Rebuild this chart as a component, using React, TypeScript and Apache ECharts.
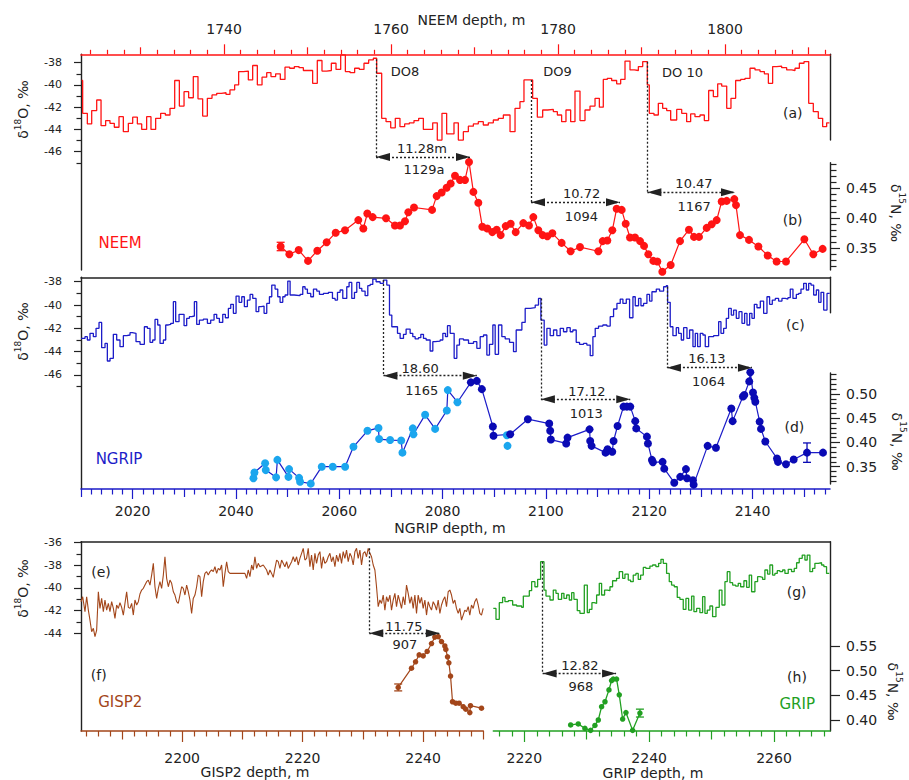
import React, { useEffect, useRef } from "react";
import * as echarts from "echarts";

const FONT = "DejaVu Sans";
const RED = "#ff1414";
const BLUE = "#1c1cc8";
const DARKBLUE = "#0a0ab4";
const LIGHTBLUE = "#1ba6ee";
const BROWN = "#a3461a";
const GREEN = "#22a022";
const INK = "#222222";

// ---------------- data ----------------
const neemD18O: number[][] = [
  [1722.95,-39.6],[1723.07,-42.55],[1723.63,-43.5],[1724.15,-42.3],[1724.75,-41.35],[1725.27,-43.66],[1725.82,-43.2],[1726.34,-43.45],[1726.86,-43.8],[1727.42,-42.85],[1727.94,-44.2],[1728.54,-43.45],[1729.06,-42.9],[1729.62,-43.5],[1730.14,-44.0],[1730.73,-42.85],[1731.25,-44.0],[1731.81,-43.0],[1732.41,-42.55],[1732.97,-42.7],[1733.53,-42.1],[1734.09,-39.6],[1734.65,-41.9],[1735.21,-40.6],[1735.76,-41.15],[1736.32,-39.25],[1736.88,-41.25],[1737.44,-42.8],[1738.0,-41.2],[1738.56,-40.9],[1739.12,-40.75],[1739.68,-40.7],[1740.24,-40.85],[1740.71,-40.45],[1741.27,-40.0],[1741.75,-38.8],[1742.31,-38.75],[1742.91,-39.55],[1743.43,-38.25],[1743.99,-40.0],[1744.55,-39.3],[1745.11,-38.9],[1745.62,-39.25],[1746.18,-39.0],[1746.74,-39.5],[1747.3,-38.4],[1747.86,-38.5],[1748.42,-38.35],[1748.98,-38.45],[1749.5,-38.7],[1750.06,-38.7],[1750.61,-39.85],[1751.17,-37.8],[1751.73,-38.75],[1752.29,-38.7],[1752.85,-38.05],[1753.41,-38.6],[1753.97,-37.3],[1754.53,-38.8],[1755.09,-38.9],[1755.64,-38.5],[1756.2,-38.6],[1756.76,-38.05],[1757.32,-37.75],[1757.88,-37.6],[1758.28,-38.95],[1758.88,-43.0],[1759.4,-43.3],[1759.96,-43.85],[1760.51,-43.0],[1761.07,-43.75],[1761.63,-43.5],[1762.19,-43.4],[1762.75,-43.2],[1763.31,-43.0],[1763.87,-44.0],[1764.47,-44.0],[1764.99,-43.4],[1765.54,-44.95],[1766.1,-42.55],[1766.66,-44.4],[1767.54,-43.4],[1768.06,-44.95],[1768.66,-44.2],[1769.26,-43.7],[1769.86,-43.5],[1770.45,-43.3],[1771.05,-43.6],[1771.65,-43.4],[1772.25,-43.15],[1772.85,-43.0],[1773.45,-42.7],[1774.25,-44.2],[1774.85,-42.1],[1775.44,-41.5],[1775.92,-39.55],[1776.96,-41.2],[1777.52,-42.9],[1778.16,-42.25],[1778.76,-42.2],[1779.44,-42.4],[1779.92,-42.7],[1780.43,-43.3],[1780.95,-42.25],[1781.51,-43.3],[1782.03,-40.55],[1782.63,-43.2],[1783.23,-42.25],[1783.83,-41.9],[1784.43,-41.2],[1784.95,-42.0],[1785.42,-39.5],[1785.9,-39.4],[1786.42,-39.6],[1787.02,-39.9],[1787.5,-39.5],[1788.02,-37.85],[1788.62,-38.65],[1789.14,-38.7],[1789.62,-38.35],[1790.14,-37.9],[1790.69,-40.0],[1790.93,-42.55],[1791.49,-42.7],[1792.01,-41.65],[1792.53,-42.1],[1793.01,-42.3],[1793.49,-43.15],[1794.21,-42.2],[1794.81,-42.55],[1795.4,-43.3],[1795.88,-42.6],[1796.4,-42.85],[1797.0,-42.7],[1797.52,-43.2],[1798.04,-40.5],[1798.6,-41.05],[1799.12,-39.9],[1799.6,-40.1],[1800.2,-42.1],[1800.71,-41.2],[1801.27,-39.6],[1801.87,-39.5],[1802.39,-39.4],[1802.99,-38.5],[1803.59,-38.65],[1804.19,-38.8],[1804.71,-39.0],[1805.19,-39.85],[1805.7,-38.35],[1806.18,-38.3],[1806.78,-38.45],[1807.38,-38.65],[1807.98,-38.7],[1808.38,-38.5],[1808.9,-38.05],[1809.46,-37.9],[1810.02,-41.65],[1810.57,-42.4],[1811.17,-43.0],[1811.69,-43.75],[1812.17,-43.4],[1812.5,-43.4]
];
const neemD15N: number[][] = [
  [1746.78,0.353],[1747.82,0.34],[1748.94,0.347],[1750.06,0.329],[1751.17,0.346],[1752.29,0.36],[1753.37,0.376],[1754.49,0.38],[1756.08,0.397],[1756.68,0.383],[1757.16,0.408],[1757.8,0.402],[1759.4,0.4],[1760.47,0.388],[1761.07,0.388],[1761.67,0.395],[1762.07,0.41],[1762.75,0.418],[1764.91,0.414],[1765.46,0.437],[1766.06,0.443],[1766.66,0.451],[1767.14,0.458],[1767.66,0.471],[1768.26,0.464],[1768.86,0.464],[1769.34,0.494],[1769.86,0.444],[1770.45,0.426],[1770.93,0.386],[1771.53,0.383],[1772.13,0.377],[1772.65,0.381],[1773.13,0.372],[1773.73,0.387],[1774.33,0.391],[1774.93,0.377],[1775.84,0.392],[1776.52,0.388],[1777.04,0.402],[1777.64,0.38],[1778.16,0.372],[1778.72,0.37],[1779.32,0.375],[1780.43,0.359],[1781.51,0.345],[1782.63,0.352],[1784.83,0.345],[1785.35,0.362],[1785.9,0.363],[1786.5,0.38],[1787.02,0.416],[1787.62,0.414],[1788.1,0.391],[1788.62,0.368],[1789.22,0.368],[1789.82,0.362],[1790.3,0.354],[1790.81,0.34],[1791.41,0.329],[1791.89,0.328],[1792.49,0.311],[1793.49,0.322],[1794.61,0.362],[1795.68,0.381],[1796.28,0.369],[1796.88,0.369],[1797.8,0.384],[1798.4,0.39],[1799.0,0.397],[1799.6,0.428],[1800.2,0.429],[1801.11,0.432],[1801.31,0.422],[1801.79,0.372],[1802.87,0.364],[1803.99,0.353],[1805.11,0.338],[1806.18,0.328],[1807.3,0.328],[1809.5,0.365],[1810.57,0.34],[1811.69,0.349]
];
const neemErr: number[][] = [[1746.78, 0.346, 0.36]];

const ngripD18O: number[][] = [
  [2010.0,-42.86],[2010.77,-42.71],[2011.23,-43.0],[2011.74,-42.43],[2012.39,-42.71],[2012.91,-42.0],[2013.49,-41.49],[2014.0,-43.66],[2014.65,-43.29],[2015.1,-44.8],[2015.62,-44.57],[2016.26,-42.51],[2016.91,-43.0],[2017.55,-43.57],[2018.2,-42.63],[2018.84,-42.57],[2019.49,-42.37],[2019.94,-42.43],[2020.65,-43.14],[2021.43,-43.37],[2022.27,-41.86],[2022.85,-42.0],[2023.36,-43.2],[2023.88,-43.0],[2024.33,-41.23],[2024.85,-41.71],[2025.3,-43.29],[2025.95,-43.0],[2026.4,-41.71],[2026.91,-41.66],[2027.37,-41.57],[2027.88,-39.71],[2028.33,-41.43],[2028.98,-40.8],[2029.95,-41.77],[2030.46,-41.14],[2030.98,-41.0],[2031.43,-40.94],[2031.95,-39.71],[2032.4,-41.66],[2032.92,-41.29],[2033.69,-41.2],[2034.47,-41.57],[2035.11,-41.29],[2035.76,-40.8],[2036.27,-41.14],[2036.79,-41.49],[2037.44,-40.8],[2037.95,-41.09],[2038.53,-40.29],[2038.99,-39.94],[2039.5,-40.71],[2040.02,-39.23],[2040.6,-39.77],[2041.12,-39.29],[2041.63,-40.14],[2042.21,-39.57],[2042.73,-39.09],[2043.25,-39.43],[2043.89,-40.57],[2044.41,-40.14],[2044.86,-40.09],[2045.44,-40.71],[2045.96,-39.86],[2046.48,-39.29],[2046.93,-38.29],[2047.57,-38.63],[2048.09,-39.29],[2048.54,-39.77],[2049.06,-39.29],[2049.51,-39.14],[2050.03,-37.94],[2050.48,-39.14],[2051.25,-39.2],[2052.41,-39.09],[2052.93,-38.43],[2053.38,-38.63],[2053.83,-39.0],[2054.48,-39.29],[2055.0,-38.63],[2055.64,-38.8],[2056.16,-39.09],[2056.93,-39.0],[2057.9,-38.91],[2058.68,-39.43],[2059.19,-39.57],[2059.65,-38.91],[2060.16,-38.71],[2060.68,-39.43],[2061.45,-38.43],[2061.9,-38.06],[2062.42,-39.43],[2062.94,-38.91],[2063.39,-38.06],[2063.91,-38.57],[2064.36,-38.8],[2065.0,-39.2],[2065.52,-38.34],[2065.97,-38.23],[2066.49,-37.77],[2067.13,-38.0],[2067.91,-38.14],[2068.55,-37.86],[2069.2,-38.29],[2069.72,-40.86],[2070.17,-41.86],[2071.27,-42.43],[2071.78,-42.86],[2072.43,-42.51],[2072.94,-42.06],[2073.72,-42.43],[2074.23,-42.71],[2074.69,-42.91],[2075.33,-42.8],[2075.79,-42.51],[2076.3,-42.86],[2076.82,-43.0],[2077.59,-43.94],[2078.11,-43.14],[2078.56,-43.09],[2079.53,-43.0],[2080.05,-42.43],[2080.56,-42.71],[2080.95,-41.77],[2081.47,-42.43],[2082.24,-44.57],[2082.76,-43.43],[2083.27,-42.91],[2084.05,-43.0],[2085.02,-43.29],[2085.98,-43.14],[2086.63,-43.71],[2087.28,-42.71],[2087.92,-42.57],[2088.57,-44.29],[2089.08,-43.37],[2089.73,-41.71],[2090.18,-44.23],[2090.83,-41.71],[2091.47,-42.71],[2092.12,-42.91],[2092.96,-43.2],[2093.73,-44.0],[2094.25,-42.14],[2095.35,-41.49],[2095.99,-40.29],[2096.96,-40.23],[2097.93,-40.0],[2098.57,-39.43],[2099.03,-41.29],[2099.67,-43.43],[2100.19,-42.0],[2100.83,-42.63],[2101.48,-42.14],[2102.12,-42.63],[2102.77,-42.0],[2103.41,-42.29],[2104.06,-41.94],[2104.71,-42.29],[2105.22,-42.14],[2105.87,-43.2],[2106.51,-43.37],[2107.29,-43.29],[2107.93,-43.43],[2108.58,-44.34],[2109.1,-42.71],[2109.55,-42.0],[2110.19,-41.8],[2111.03,-41.71],[2111.81,-41.8],[2112.45,-41.0],[2113.1,-40.34],[2113.75,-39.86],[2114.39,-39.49],[2114.91,-39.86],[2115.56,-39.49],[2116.2,-41.09],[2116.85,-39.29],[2117.3,-40.06],[2117.94,-39.43],[2118.4,-40.06],[2118.91,-39.86],[2119.56,-39.09],[2120.07,-39.66],[2120.53,-38.86],[2121.37,-38.63],[2122.01,-38.8],[2122.79,-38.43],[2123.3,-38.34],[2123.56,-39.77],[2124.07,-41.86],[2124.59,-42.63],[2125.24,-41.94],[2125.69,-42.43],[2126.21,-43.0],[2126.66,-41.94],[2127.31,-42.86],[2127.82,-42.14],[2128.47,-43.57],[2128.92,-42.43],[2129.37,-43.57],[2129.88,-42.43],[2130.4,-42.57],[2130.85,-43.57],[2131.5,-42.71],[2132.47,-42.63],[2133.44,-41.43],[2133.89,-42.43],[2134.41,-42.0],[2134.92,-41.14],[2135.37,-40.29],[2135.89,-40.86],[2136.34,-40.43],[2136.86,-41.14],[2137.38,-40.57],[2137.96,-41.57],[2138.47,-40.71],[2138.93,-41.71],[2139.44,-40.71],[2139.89,-41.14],[2140.35,-39.94],[2140.86,-40.23],[2141.51,-39.66],[2142.15,-40.71],[2142.8,-39.29],[2143.31,-39.94],[2143.83,-39.57],[2144.41,-39.43],[2145.05,-39.66],[2145.7,-39.43],[2146.35,-39.49],[2146.86,-39.37],[2147.31,-38.63],[2147.83,-39.43],[2148.48,-39.09],[2148.93,-39.0],[2149.38,-38.63],[2149.9,-38.14],[2150.42,-38.71],[2150.87,-38.14],[2151.32,-38.29],[2151.84,-39.14],[2152.36,-38.71],[2152.81,-39.77],[2153.26,-38.91],[2153.78,-40.43],[2154.42,-39.0],[2154.94,-39.0]
];
const ngripD15NLight: number[][] = [
  [2043.38,0.326],[2043.57,0.338],[2045.64,0.357],[2045.77,0.343],[2047.77,0.328],[2048.02,0.364],[2050.16,0.329],[2050.28,0.345],[2052.22,0.327],[2052.41,0.319],[2054.48,0.315],[2056.61,0.35],[2058.74,0.35],[2061.13,0.35],[2062.74,0.391],[2065.45,0.424],[2067.59,0.43],[2067.71,0.407],[2069.85,0.405],[2071.98,0.404],[2072.23,0.379],[2074.24,0.429],[2074.36,0.417],[2076.62,0.457],[2078.56,0.428],[2080.82,0.466],[2081.01,0.508],[2082.88,0.483]
];
const ngripD15NLightExtra: number[][] = [[2092.44,0.415],[2092.57,0.393]];
const ngripD15NDark: number[][] = [
  [2085.47,0.524],[2086.63,0.527],[2087.6,0.51],[2089.73,0.433],[2089.86,0.414],[2093.09,0.417],[2096.51,0.448],[2100.64,0.439],[2100.83,0.424],[2100.96,0.406],[2103.93,0.398],[2104.19,0.41],[2108.45,0.427],[2108.58,0.403],[2108.84,0.393],[2111.55,0.379],[2111.94,0.386],[2112.84,0.381],[2113.1,0.403],[2113.87,0.434],[2115.03,0.474],[2115.68,0.474],[2116.33,0.474],[2117.3,0.444],[2117.49,0.429],[2119.56,0.412],[2119.75,0.398],[2120.53,0.364],[2120.72,0.359],[2122.59,0.36],[2122.91,0.346],[2124.85,0.317],[2126.01,0.329],[2127.11,0.345],[2127.31,0.326],[2128.47,0.322],[2128.6,0.313],[2131.31,0.393],[2132.92,0.389],[2135.89,0.47],[2136.15,0.444],[2138.15,0.495],[2138.41,0.498],[2139.37,0.526],[2139.57,0.545],[2140.09,0.503],[2140.35,0.492],[2140.54,0.484],[2141.38,0.443],[2141.64,0.428],[2142.48,0.402],[2144.74,0.367],[2144.93,0.36],[2146.48,0.355],[2147.97,0.365],[2150.55,0.379],[2153.64,0.379]
];
const ngripErr: number[][] = [[2150.55, 0.359, 0.399]];

const gisp2D18O: number[][] = [
  [2183.2,-41.21],[2183.48,-40.77],[2183.86,-42.09],[2184.14,-40.77],[2184.42,-41.95],[2184.69,-42.83],[2184.97,-43.86],[2185.25,-43.56],[2185.52,-44.3],[2185.8,-43.71],[2186.08,-40.33],[2186.35,-41.8],[2186.63,-40.92],[2186.91,-42.09],[2187.18,-41.06],[2187.46,-41.95],[2187.74,-41.36],[2188.01,-42.09],[2188.29,-41.21],[2188.57,-41.8],[2188.84,-42.68],[2189.12,-41.5],[2189.4,-41.8],[2189.67,-41.3],[2189.95,-41.71],[2190.23,-42.39],[2190.5,-41.36],[2190.78,-40.33],[2191.06,-41.71],[2191.33,-41.8],[2191.61,-41.36],[2191.89,-42.39],[2192.16,-41.06],[2192.44,-41.5],[2192.72,-41.21],[2192.99,-40.53],[2193.27,-40.18],[2193.55,-40.03],[2193.82,-39.74],[2194.1,-39.44],[2194.38,-39.3],[2194.65,-39.74],[2194.93,-38.86],[2195.21,-37.82],[2195.48,-39.89],[2195.76,-40.92],[2196.04,-40.03],[2196.31,-39.44],[2196.59,-40.03],[2196.87,-38.86],[2197.14,-37.24],[2197.42,-39.15],[2197.7,-39.89],[2197.97,-39.3],[2198.25,-39.59],[2198.53,-40.33],[2198.8,-40.62],[2199.08,-41.21],[2199.35,-41.36],[2199.63,-40.62],[2199.91,-39.89],[2200.18,-40.03],[2200.46,-40.62],[2200.74,-39.74],[2201.01,-40.33],[2201.29,-41.06],[2201.57,-42.24],[2201.84,-40.92],[2202.12,-40.62],[2202.4,-39.89],[2202.67,-38.86],[2202.95,-39.0],[2203.23,-40.77],[2203.5,-39.44],[2203.78,-38.71],[2204.06,-38.56],[2204.33,-38.86],[2204.61,-38.56],[2204.89,-38.41],[2205.16,-38.56],[2205.44,-38.12],[2205.72,-38.71],[2205.99,-38.27],[2206.27,-38.41],[2206.55,-37.97],[2206.82,-39.89],[2207.1,-38.71],[2207.38,-37.68],[2207.65,-38.56],[2207.93,-38.71],[2208.48,-38.71],[2210.42,-38.71],[2210.7,-39.15],[2210.97,-38.41],[2211.25,-39.0],[2211.53,-37.97],[2211.8,-38.41],[2212.08,-37.24],[2212.36,-38.27],[2212.63,-37.82],[2212.91,-38.12],[2213.46,-37.97],[2214.02,-38.41],[2214.29,-38.86],[2214.57,-38.41],[2214.85,-38.71],[2215.12,-39.06],[2215.4,-38.27],[2215.68,-37.53],[2215.95,-37.68],[2216.23,-38.27],[2216.51,-37.53],[2216.78,-37.82],[2217.06,-38.12],[2217.34,-37.68],[2217.61,-38.27],[2217.89,-37.97],[2218.17,-37.68],[2218.44,-37.24],[2218.72,-37.68],[2219.0,-37.24],[2219.27,-37.97],[2219.55,-37.38],[2219.83,-36.94],[2220.1,-36.5],[2220.38,-37.53],[2220.66,-37.38],[2220.93,-36.5],[2221.21,-38.12],[2221.48,-37.09],[2221.76,-38.41],[2222.04,-36.94],[2222.31,-37.82],[2222.59,-37.09],[2222.87,-36.79],[2223.14,-38.27],[2223.42,-37.24],[2223.7,-37.82],[2223.97,-37.68],[2224.25,-37.24],[2224.53,-36.94],[2224.8,-37.68],[2225.08,-37.24],[2225.36,-38.12],[2225.63,-37.09],[2225.91,-37.68],[2226.19,-36.94],[2226.46,-37.82],[2226.74,-36.79],[2227.02,-37.38],[2227.29,-36.65],[2227.57,-37.68],[2227.85,-36.94],[2228.12,-37.24],[2228.4,-37.97],[2228.68,-36.79],[2228.95,-36.5],[2229.23,-37.38],[2229.51,-36.65],[2229.78,-37.97],[2230.06,-36.94],[2230.34,-36.79],[2230.61,-37.24],[2230.89,-36.5],[2231.17,-36.94],[2231.44,-37.24],[2231.72,-37.97],[2232.0,-38.41],[2232.27,-39.89],[2232.55,-41.65],[2232.83,-41.06],[2233.1,-41.36],[2233.38,-40.62],[2233.66,-41.95],[2233.93,-40.77],[2234.21,-41.21],[2234.49,-40.62],[2234.76,-41.95],[2235.04,-41.06],[2235.32,-40.47],[2235.59,-41.65],[2235.87,-40.62],[2236.15,-41.21],[2236.42,-41.8],[2236.7,-40.77],[2236.98,-41.5],[2237.25,-39.74],[2237.53,-40.47],[2237.81,-41.36],[2238.08,-40.77],[2238.36,-41.8],[2238.64,-40.62],[2238.91,-42.24],[2239.19,-40.62],[2239.47,-41.36],[2239.74,-40.83],[2240.02,-41.8],[2240.3,-41.06],[2240.57,-42.39],[2240.85,-41.21],[2241.13,-41.65],[2241.4,-41.95],[2241.68,-41.21],[2241.96,-41.5],[2242.23,-41.95],[2242.51,-41.06],[2242.79,-42.24],[2243.06,-41.5],[2243.34,-41.06],[2243.62,-40.77],[2243.89,-41.65],[2244.17,-40.33],[2244.45,-40.18],[2244.72,-40.62],[2245.0,-41.36],[2245.27,-41.06],[2245.55,-41.8],[2245.83,-42.24],[2246.1,-41.8],[2246.38,-42.83],[2246.66,-42.39],[2246.93,-41.95],[2247.21,-42.09],[2247.49,-41.65],[2247.76,-42.39],[2248.04,-41.5],[2248.32,-41.8],[2248.59,-41.21],[2248.87,-40.92],[2249.15,-41.5],[2249.42,-42.24],[2249.7,-42.39],[2249.98,-41.8]
];
const gisp2D15N: number[][] = [
  [2235.87,0.466],[2238.08,0.505],[2238.75,0.518],[2239.35,0.532],[2240.02,0.53],[2240.68,0.539],[2241.4,0.555],[2241.95,0.568],[2242.51,0.569],[2243.06,0.559],[2243.61,0.55],[2243.78,0.543],[2244.06,0.528],[2244.28,0.516],[2244.56,0.489],[2244.89,0.437],[2245.44,0.434],[2245.99,0.434],[2246.66,0.427],[2247.1,0.422],[2247.76,0.415],[2247.87,0.429],[2249.7,0.424]
];
const gisp2Err: number[][] = [[2235.87, 0.459, 0.473]];

const gripD18O: number[][] = [
  [2215.03,-41.8],[2215.46,-42.77],[2215.99,-41.3],[2216.52,-40.83],[2216.9,-41.21],[2217.43,-41.12],[2218.13,-41.5],[2218.77,-41.59],[2219.57,-41.71],[2219.84,-40.71],[2220.8,-40.24],[2221.17,-39.44],[2221.7,-39.89],[2222.13,-39.24],[2222.61,-37.68],[2223.15,-40.18],[2223.47,-40.71],[2224.11,-41.06],[2224.64,-40.18],[2225.07,-40.47],[2225.44,-41.0],[2225.98,-40.47],[2226.35,-40.92],[2226.78,-40.62],[2227.2,-41.06],[2227.58,-40.41],[2227.95,-41.0],[2228.48,-42.0],[2228.91,-42.24],[2229.61,-39.74],[2230.09,-42.18],[2230.41,-41.89],[2230.83,-41.3],[2231.21,-41.36],[2231.58,-40.62],[2232.01,-39.59],[2232.38,-40.62],[2232.86,-40.18],[2233.29,-40.24],[2233.72,-39.89],[2234.14,-39.36],[2234.78,-39.15],[2235.21,-38.56],[2235.75,-39.15],[2236.12,-38.77],[2236.65,-39.3],[2237.03,-39.44],[2237.45,-38.86],[2237.88,-38.71],[2238.25,-39.24],[2238.63,-38.86],[2239.06,-38.18],[2239.48,-38.27],[2240.12,-38.06],[2240.55,-37.97],[2241.08,-38.12],[2241.51,-37.82],[2241.89,-37.47],[2242.26,-37.82],[2242.79,-38.71],[2243.22,-39.44],[2243.59,-39.74],[2244.02,-39.89],[2244.5,-40.83],[2244.93,-41.0],[2245.46,-41.89],[2245.89,-40.92],[2246.32,-41.95],[2246.8,-40.71],[2247.17,-42.09],[2247.6,-41.8],[2248.13,-42.18],[2248.56,-40.77],[2248.93,-42.24],[2249.31,-41.95],[2249.73,-41.59],[2250.16,-42.53],[2250.7,-41.71],[2251.23,-40.18],[2251.66,-41.5],[2252.14,-39.44],[2252.51,-38.56],[2252.94,-39.53],[2253.37,-39.74],[2253.85,-39.83],[2254.27,-39.59],[2254.65,-39.89],[2255.18,-39.36],[2255.61,-39.94],[2256.03,-38.86],[2256.41,-40.33],[2256.94,-39.44],[2257.37,-39.0],[2257.74,-39.06],[2258.17,-39.24],[2258.54,-38.41],[2258.97,-38.77],[2259.34,-37.97],[2259.77,-38.86],[2260.14,-38.71],[2260.52,-38.47],[2260.95,-38.56],[2261.37,-38.41],[2261.75,-38.71],[2262.28,-38.35],[2262.81,-38.56],[2263.24,-38.27],[2263.62,-37.77],[2264.04,-37.38],[2264.52,-37.09],[2264.95,-37.53],[2265.32,-37.09],[2265.75,-38.56],[2266.18,-38.27],[2266.55,-37.82],[2267.08,-37.77],[2267.62,-37.97],[2267.99,-38.12],[2268.42,-38.71],[2268.85,-38.71]
];
const gripD15N: number[][] = [
  [2227.42,0.39],[2228.64,0.392],[2229.71,0.383],[2230.62,0.379],[2231.31,0.389],[2231.85,0.4],[2232.38,0.427],[2232.92,0.437],[2233.56,0.461],[2233.98,0.48],[2234.25,0.483],[2234.78,0.483],[2235.21,0.451],[2235.75,0.402],[2236.28,0.415],[2237.35,0.379],[2238.52,0.414]
];
const gripErr: number[][] = [[2238.52, 0.406, 0.422]];

// DO transitions: onset depth, δ18O at onset, δ18O level of the arrow, depth of the δ15N peak
const neemTransitions = [
  { onset: 1758.2, top: -37.7, level: -46.48, peak: 1769.46 },
  { onset: 1776.76, top: -39.56, level: -50.55, peak: 1787.42 },
  { onset: 1790.7, top: -37.91, level: -49.65, peak: 1801.19 },
];
const ngripTransitions = [
  { onset: 2068.55, top: -37.86, level: -46.06, peak: 2086.63 },
  { onset: 2099.03, top: -39.43, level: -48.09, peak: 2116.33 },
  { onset: 2123.43, top: -38.43, level: -45.37, peak: 2139.89 },
];
const gisp2Transitions = [{ onset: 2231.06, top: -36.5, level: -44.0, peak: 2242.79 }];
const gripTransitions = [{ onset: 2222.93, top: -37.68, level: -47.54, peak: 2234.7 }];

// annotation texts
const neemTexts = [
  { t: "DO8", x: 1761.68, y: -38.75, s: 13 },
  { t: "DO9", x: 1779.94, y: -38.81, s: 13 },
  { t: "DO 10", x: 1794.9, y: -38.9, s: 13 },
  { t: "(a)", x: 1808.1, y: -42.55, s: 14 },
  { t: "11.28m", x: 1763.7, y: -45.67, s: 13 },
  { t: "1129a", x: 1763.95, y: -47.64, s: 13 },
  { t: "10.72", x: 1782.83, y: -49.74, s: 13 },
  { t: "1094", x: 1782.8, y: -51.84, s: 13 },
  { t: "10.47", x: 1796.28, y: -48.84, s: 13 },
  { t: "1167", x: 1796.3, y: -50.88, s: 13 },
];
const neemTexts15 = [
  { t: "(b)", x: 1808.1, y: 0.397, s: 14 },
  { t: "NEEM", x: 1727.55, y: 0.3593, s: 15, c: RED },
];
const ngripTexts = [
  { t: "18.60", x: 2075.66, y: -45.43, s: 13 },
  { t: "1165", x: 2075.98, y: -47.37, s: 13 },
  { t: "17.12", x: 2107.93, y: -47.43, s: 13 },
  { t: "1013", x: 2107.8, y: -49.29, s: 13 },
  { t: "16.13", x: 2131.17, y: -44.57, s: 13 },
  { t: "1064", x: 2131.5, y: -46.57, s: 13 },
  { t: "(c)", x: 2148.29, y: -41.71, s: 14 },
];
const ngripTexts15 = [
  { t: "(d)", x: 2148.1, y: 0.4314, s: 14 },
  { t: "NGRIP", x: 2017.36, y: 0.3653, s: 15, c: BLUE },
];
const gisp2Texts = [
  { t: "11.75", x: 2236.81, y: -43.36, s: 13 },
  { t: "907", x: 2236.98, y: -44.95, s: 13 },
  { t: "(e)", x: 2186.52, y: -38.56, s: 14 },
  { t: "(f)", x: 2186.14, y: -47.68, s: 14 },
  { t: "GISP2", x: 2189.72, y: -50.04, s: 15, c: BROWN },
];
const gripTexts = [
  { t: "12.82", x: 2228.91, y: -46.8, s: 13 },
  { t: "968", x: 2229.07, y: -48.71, s: 13 },
  { t: "(g)", x: 2263.63, y: -40.33, s: 14 },
  { t: "(h)", x: 2263.68, y: -47.83, s: 14 },
  { t: "GRIP", x: 2263.71, y: -50.27, s: 15, c: GREEN },
];

// ticks
const neemLabels = [1740, 1760, 1780, 1800];
const neemMid = [1730, 1750, 1770, 1790, 1810];
const ngripLabels = [2020, 2040, 2060, 2080, 2100, 2120, 2140];
const ngripMid = [2010, 2030, 2050, 2070, 2090, 2110, 2130, 2150];
const gisp2Labels = [2200, 2220, 2240];
const gisp2Mid = [2190, 2210, 2230, 2250];
const gripLabels = [2220, 2240, 2260];
const gripMid = [2230, 2250];
const d18Labels = [-38, -40, -42, -44, -46];
const d18Minor = [-39, -41, -43, -45, -47];
const d18LabelsB = [-36, -38, -40, -42, -44];
const d18MinorB = [-37, -39, -41, -43];
const neemN15Labels = [0.35, 0.4, 0.45];
const ngripN15Labels = [0.35, 0.4, 0.45, 0.5];
const bottomN15Labels = [0.4, 0.45, 0.5, 0.55];

function evenMinor(a: number, b: number) {
  const out: number[] = [];
  for (let v = a; v <= b; v += 2) if (v % 10 !== 0) out.push(v);
  return out;
}
function hundredthMinor(a: number, b: number) {
  const out: number[] = [];
  for (let k = a; k <= b; k++) if (k % 5 !== 0) out.push(k / 100);
  return out;
}

// axis ranges
const R_NEEM = [1722.87, 1812.57];
const R_NGRIP = [2010, 2155];
const R_GISP2 = [2183.2, 2250];
const R_GRIP = [2215.03, 2268.97];
const R_D18_A = [-56.63, -37.245];
const R_D18_C = [-55.78, -37.62];
const R_D18_E = [-52.627, -35.912];
const R_N15_B = [0.3138, 0.4927];
const R_N15_D = [0.3143, 0.5433];
const R_N15_H = [0.3777, 0.7614];

const plain = (v: number) => String(v);
const f2 = (v: number) => v.toFixed(2);

function xAx(grid: number, r: number[], pos: string, color: string, o: any = {}) {
  return {
    type: "value", gridIndex: grid, min: r[0], max: r[1], position: pos,
    axisLine: { show: !!o.line, onZero: false, lineStyle: { color, width: 1.5 } },
    axisTick: o.ticks ? { show: true, customValues: o.ticks, length: o.len, lineStyle: { color, width: 1.2 } } : { show: false },
    axisLabel: o.labels ? { show: true, customValues: o.labels, color: INK, fontSize: 14, fontFamily: FONT, margin: o.margin ?? 17, formatter: plain } : { show: false },
    splitLine: { show: false },
  };
}
function yAx(grid: number, r: number[], pos: string, o: any = {}) {
  return {
    type: "value", gridIndex: grid, min: r[0], max: r[1], position: pos,
    axisLine: { show: !!o.line, onZero: false, lineStyle: { color: INK, width: 1.4 } },
    axisTick: o.ticks ? { show: true, customValues: o.ticks, length: o.len, lineStyle: { color: INK, width: 1.2 } } : { show: false },
    axisLabel: o.labels ? { show: true, customValues: o.labels, color: INK, fontSize: o.fs ?? 14, fontFamily: FONT, margin: o.margin ?? 16, formatter: o.fmt ?? plain } : { show: false },
    splitLine: { show: false },
  };
}
const hid = (grid: number, r: number[]) => ({ type: "value", gridIndex: grid, min: r[0], max: r[1], show: false });

function annoMarkLine(list: any[]) {
  const data: any[] = [];
  const head = { symbol: "triangle", symbolSize: [8, 14], symbolOffset: [0, 7] };
  list.forEach((a) => {
    data.push([{ coord: [a.onset, a.top], symbol: "none" }, { coord: [a.onset, a.level], symbol: "none" }]);
    data.push([{ coord: [a.onset, a.level], ...head }, { coord: [a.peak, a.level], ...head }]);
  });
  return {
    silent: true, animation: false, label: { show: false },
    lineStyle: { color: INK, type: [2, 2], width: 1.3, opacity: 1 },
    emphasis: { disabled: true },
    data,
  };
}
function textSeries(xi: number, yi: number, list: any[]) {
  return {
    type: "scatter", xAxisIndex: xi, yAxisIndex: yi, symbolSize: 1, silent: true, z: 6,
    itemStyle: { color: "rgba(0,0,0,0)", opacity: 1 },
    label: { show: true, position: "inside", formatter: "{b}", fontFamily: FONT, color: INK, opacity: 1 },
    data: list.map((d) => ({ value: [d.x, d.y], name: d.t, label: { fontSize: d.s, color: d.c ?? INK } })),
  };
}
function errSeries(xi: number, yi: number, data: number[][], color: string) {
  return {
    type: "custom", xAxisIndex: xi, yAxisIndex: yi, silent: true, clip: false, z: 4,
    data, encode: { x: 0, y: [1, 2] },
    renderItem: (_p: any, api: any) => {
      const x = api.value(0);
      const a = api.coord([x, api.value(1)]);
      const b = api.coord([x, api.value(2)]);
      const st = { stroke: color, lineWidth: 1.3 };
      return {
        type: "group",
        children: [
          { type: "line", shape: { x1: a[0], y1: a[1], x2: b[0], y2: b[1] }, style: st },
          { type: "line", shape: { x1: a[0] - 4, y1: a[1], x2: a[0] + 4, y2: a[1] }, style: st },
          { type: "line", shape: { x1: b[0] - 4, y1: b[1], x2: b[0] + 4, y2: b[1] }, style: st },
        ],
      };
    },
  };
}

function richTitle(x: number, y: number, sup: string, tail: string, rot: number) {
  return {
    type: "text", x, y, rotation: rot, silent: true,
    style: {
      text: `{a|δ}{s|${sup}}{a|${tail}}`,
      align: "center", verticalAlign: "middle",
      rich: {
        a: { fontSize: 14, fontFamily: FONT, fill: INK, lineHeight: 20 },
        s: { fontSize: 9, fontFamily: FONT, fill: INK, lineHeight: 20, verticalAlign: "top" },
      },
    },
  };
}
function plainTitle(x: number, y: number, text: string) {
  return { type: "text", x, y, silent: true, style: { text, fontSize: 14, fontFamily: FONT, fill: INK, align: "center", verticalAlign: "middle" } };
}

export default function App() {
  const ref = useRef<HTMLDivElement>(null);
  useEffect(() => {
    if (!ref.current) return;
    const chart = echarts.init(ref.current, undefined, { renderer: "svg" });
    const option: any = {
      animation: false,
      backgroundColor: "#ffffff",
      grid: [
        { left: 81, top: 54.3, width: 749, height: 215.7 },
        { left: 81, top: 162.7, width: 749, height: 107.3 },
        { left: 81, top: 54.3, width: 749, height: 85.7 },
        { left: 81, top: 277.3, width: 749, height: 211.7 },
        { left: 81, top: 373, width: 749, height: 111 },
        { left: 81, top: 277.3, width: 749, height: 35.4 },
        { left: 81, top: 541.7, width: 402.3, height: 189.3 },
        { left: 81, top: 541.7, width: 402.3, height: 189.3 },
        { left: 493.3, top: 541.7, width: 336.7, height: 189.3 },
        { left: 493.3, top: 541.7, width: 336.7, height: 189.3 },
        { left: 81, top: 541.7, width: 749, height: 189.3 },
      ],
      xAxis: [
        xAx(0, R_NEEM, "top", RED, { line: true, ticks: neemLabels, labels: neemLabels, len: 10, margin: 18 }), // 0
        xAx(0, R_NEEM, "top", RED, { ticks: neemMid, len: 7 }), // 1
        xAx(0, R_NEEM, "top", RED, { ticks: evenMinor(1724, 1812), len: 4.5 }), // 2
        hid(1, R_NEEM), // 3
        hid(2, R_NEEM), // 4
        xAx(3, R_NGRIP, "bottom", BLUE, { line: true, ticks: ngripLabels, labels: ngripLabels, len: 10, margin: 15 }), // 5
        xAx(3, R_NGRIP, "bottom", BLUE, { ticks: ngripMid, len: 8 }), // 6
        xAx(3, R_NGRIP, "bottom", BLUE, { ticks: evenMinor(2012, 2154), len: 5.5 }), // 7
        xAx(3, R_NGRIP, "top", INK, { line: true }), // 8
        hid(4, R_NGRIP), // 9
        hid(5, R_NGRIP), // 10
        xAx(6, R_GISP2, "bottom", BROWN, { line: true, ticks: gisp2Labels, labels: gisp2Labels, len: 11, margin: 20 }), // 11
        xAx(6, R_GISP2, "bottom", BROWN, { ticks: gisp2Mid, len: 8.5 }), // 12
        xAx(6, R_GISP2, "bottom", BROWN, { ticks: evenMinor(2184, 2248), len: 5.5 }), // 13
        hid(7, R_GISP2), // 14
        xAx(8, R_GRIP, "bottom", GREEN, { line: true, ticks: gripLabels, labels: gripLabels, len: 11, margin: 20 }), // 15
        xAx(8, R_GRIP, "bottom", GREEN, { ticks: gripMid, len: 8.5 }), // 16
        xAx(8, R_GRIP, "bottom", GREEN, { ticks: evenMinor(2216, 2268), len: 5.5 }), // 17
        hid(9, R_GRIP), // 18
        xAx(10, R_GISP2, "top", INK, { line: true }), // 19
      ],
      yAxis: [
        yAx(0, R_D18_A, "left", { line: true, ticks: d18Labels, labels: d18Labels, len: 7, fs: 11, margin: 19 }), // 0
        yAx(0, R_D18_A, "left", { ticks: d18Minor, len: 4.5 }), // 1
        yAx(1, R_N15_B, "right", { line: true, ticks: neemN15Labels, labels: neemN15Labels, len: 10, fmt: f2, margin: 16 }), // 2
        yAx(1, R_N15_B, "right", { ticks: hundredthMinor(32, 49), len: 6.5 }), // 3
        yAx(2, R_D18_A, "right", { line: true }), // 4
        yAx(3, R_D18_C, "left", { line: true, ticks: d18Labels, labels: d18Labels, len: 7, fs: 11, margin: 19 }), // 5
        yAx(3, R_D18_C, "left", { ticks: d18Minor, len: 4.5 }), // 6
        yAx(4, R_N15_D, "right", { line: true, ticks: ngripN15Labels, labels: ngripN15Labels, len: 10, fmt: f2, margin: 16 }), // 7
        yAx(4, R_N15_D, "right", { ticks: hundredthMinor(32, 54), len: 6.5 }), // 8
        yAx(5, R_D18_C, "right", { line: true }), // 9
        yAx(6, R_D18_E, "left", { line: true, ticks: d18LabelsB, labels: d18LabelsB, len: 7, fs: 11, margin: 19 }), // 10
        yAx(6, R_D18_E, "left", { ticks: d18MinorB, len: 4.5 }), // 11
        hid(7, R_N15_H), // 12
        hid(8, R_D18_E), // 13
        yAx(9, R_N15_H, "right", { line: true, ticks: bottomN15Labels, labels: bottomN15Labels, len: 10, fmt: f2, margin: 16 }), // 14
        hid(10, R_D18_E), // 15
      ],
      series: [
        {
          type: "line", xAxisIndex: 0, yAxisIndex: 0, data: neemD18O, step: "end", symbol: "none", silent: true,
          lineStyle: { color: RED, width: 1.3 }, z: 3, markLine: annoMarkLine(neemTransitions),
        },
        {
          type: "line", xAxisIndex: 3, yAxisIndex: 2, data: neemD15N, symbol: "circle", symbolSize: 8, clip: false, silent: true,
          lineStyle: { color: RED, width: 1.2 }, itemStyle: { color: RED, opacity: 1 }, z: 3,
        },
        errSeries(3, 2, neemErr, RED),
        {
          type: "line", xAxisIndex: 5, yAxisIndex: 5, data: ngripD18O, step: "end", symbol: "none", silent: true,
          lineStyle: { color: BLUE, width: 1.3 }, z: 3, markLine: annoMarkLine(ngripTransitions),
        },
        {
          type: "line", xAxisIndex: 9, yAxisIndex: 7, data: [...ngripD15NLight, ...ngripD15NDark], symbol: "none", clip: false, silent: true,
          lineStyle: { color: BLUE, width: 1.2 }, z: 3,
        },
        {
          type: "scatter", xAxisIndex: 9, yAxisIndex: 7, data: [...ngripD15NLight, ...ngripD15NLightExtra], symbolSize: 8, clip: false, silent: true,
          itemStyle: { color: LIGHTBLUE, opacity: 1 }, z: 4,
        },
        {
          type: "scatter", xAxisIndex: 9, yAxisIndex: 7, data: ngripD15NDark, symbolSize: 8, clip: false, silent: true,
          itemStyle: { color: DARKBLUE, opacity: 1 }, z: 4,
        },
        errSeries(9, 7, ngripErr, DARKBLUE),
        {
          type: "line", xAxisIndex: 11, yAxisIndex: 10, data: gisp2D18O, symbol: "none", silent: true,
          lineStyle: { color: BROWN, width: 1.1 }, z: 3, markLine: annoMarkLine(gisp2Transitions),
        },
        {
          type: "line", xAxisIndex: 14, yAxisIndex: 12, data: gisp2D15N, symbol: "circle", symbolSize: 5.5, clip: false, silent: true,
          lineStyle: { color: BROWN, width: 1.2 }, itemStyle: { color: BROWN, opacity: 1 }, z: 3,
        },
        errSeries(14, 12, gisp2Err, BROWN),
        {
          type: "line", xAxisIndex: 15, yAxisIndex: 13, data: gripD18O, step: "end", symbol: "none", silent: true,
          lineStyle: { color: GREEN, width: 1.3 }, z: 3, markLine: annoMarkLine(gripTransitions),
        },
        {
          type: "line", xAxisIndex: 18, yAxisIndex: 14, data: gripD15N, symbol: "circle", symbolSize: 5.5, clip: false, silent: true,
          lineStyle: { color: GREEN, width: 1.3 }, itemStyle: { color: GREEN, opacity: 1 }, z: 3,
        },
        errSeries(18, 14, gripErr, GREEN),
        textSeries(0, 0, neemTexts),
        textSeries(3, 2, neemTexts15),
        textSeries(5, 5, ngripTexts),
        textSeries(9, 7, ngripTexts15),
        textSeries(11, 10, gisp2Texts),
        textSeries(15, 13, gripTexts),
      ],
      graphic: [
        plainTitle(471.5, 20, "NEEM depth, m"),
        plainTitle(450, 528, "NGRIP depth, m"),
        plainTitle(255, 772, "GISP2 depth, m"),
        plainTitle(653, 773, "GRIP depth, m"),
        richTitle(23, 109.5, "18", "O, ‰", Math.PI / 2),
        richTitle(23, 331.5, "18", "O, ‰", Math.PI / 2),
        richTitle(23, 588.5, "18", "O, ‰", Math.PI / 2),
        richTitle(896, 213, "15", "N, ‰", -Math.PI / 2),
        richTitle(897, 441.7, "15", "N, ‰", -Math.PI / 2),
        richTitle(893, 691.7, "15", "N, ‰", -Math.PI / 2),
      ],
    };
    chart.setOption(option);
    return () => chart.dispose();
  }, []);
  return <div ref={ref} style={{ position: "fixed", left: 0, top: 0, width: 909, height: 780, background: "#fff" }} />;
}
